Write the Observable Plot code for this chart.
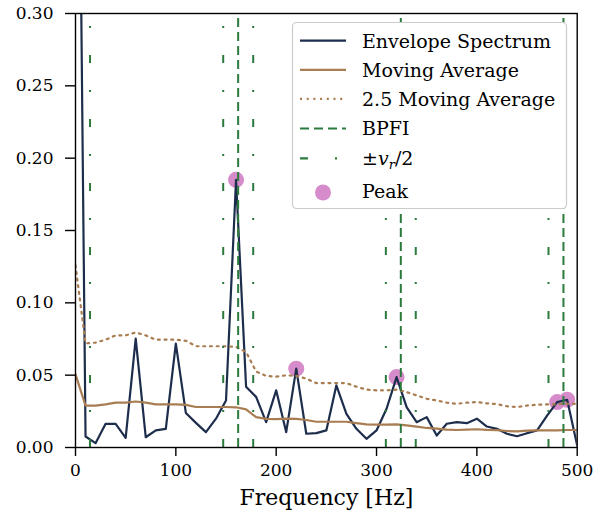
<!DOCTYPE html>
<html><head><meta charset="utf-8">
<script src="https://cdn.jsdelivr.net/npm/d3@7"></script>
<script src="https://cdn.jsdelivr.net/npm/@observablehq/plot@0.6"></script>
<style>
body{margin:0;background:#fff;}
#wrap{position:relative;width:605px;height:523px;}
#wrap svg{position:absolute;left:0;top:0;}
</style></head><body><div id="wrap"></div>
<script>
// Frequency bins (Hz)
const freqs = [0,10,20,30,40,50,60,70,80,90,100,110,120,130,140,150,160,170,180,190,200,210,220,230,240,250,260,270,280,290,300,310,320,330,340,350,360,370,380,390,400,410,420,430,440,450,460,470,480,490,500];
// Envelope spectrum amplitude
const envelope = [0.70,0.0076,0.003,0.0164,0.0164,0.0067,0.0753,0.0071,0.0118,0.0129,0.0718,0.0238,0.017,0.0106,0.0199,0.0325,0.185,0.042,0.035,0.0175,0.0395,0.0106,0.0545,0.0095,0.0099,0.0118,0.043,0.0233,0.0129,0.006,0.0118,0.0268,0.0487,0.0279,0.0175,0.021,0.0083,0.0164,0.0175,0.0168,0.0199,0.0145,0.0129,0.0095,0.0078,0.0099,0.0118,0.022,0.0314,0.033,0.0014];
// Moving average
const movingAvg = [0.0505,0.0289,0.029,0.0298,0.031,0.031,0.0318,0.031,0.0298,0.0298,0.0298,0.0295,0.028,0.028,0.028,0.028,0.0278,0.0264,0.021,0.0198,0.0196,0.02,0.0198,0.019,0.0178,0.0178,0.0178,0.0178,0.0168,0.016,0.0158,0.0158,0.016,0.0153,0.0144,0.0135,0.013,0.0124,0.0121,0.0124,0.0126,0.0122,0.012,0.0114,0.0112,0.0116,0.0118,0.0119,0.0119,0.0121,0.0121];
// 2.5 x moving average
const movingAvg25 = [0.126,0.072,0.0725,0.0745,0.0775,0.0775,0.0795,0.0775,0.0745,0.0745,0.0745,0.0738,0.070,0.070,0.070,0.070,0.0695,0.066,0.0525,0.0495,0.049,0.0499,0.0495,0.0476,0.0445,0.0445,0.0445,0.0445,0.042,0.040,0.0395,0.0395,0.040,0.0383,0.036,0.0337,0.0325,0.031,0.0302,0.031,0.0314,0.0305,0.030,0.0285,0.0279,0.029,0.0296,0.0298,0.0298,0.0302,0.0302];
// Peaks
const peakFreqs = [160,220,320,480,490];
const peakVals = [0.185,0.0545,0.0487,0.0314,0.033];
// BPFI harmonics and ±vr/2 sidebands
const bpfi = [162.1,324.2,486.3];
const sidebands = [14.5,147.2,177.1,309.3,339.1,471.4];
// Ticks
const xTicks = [0,100,200,300,400,500];
const yTicks = [0,0.05,0.10,0.15,0.20,0.25,0.30];

const navy = "#1d2d4c", tan = "#a97d52", green = "#2b7b3c", pink = "#d68cca";
const rows = freqs.map((f,i)=>({f, env: envelope[i], ma: movingAvg[i], ma25: movingAvg25[i]}));
const peaks = peakFreqs.map((f,i)=>({f, v: peakVals[i]}));

const chart = Plot.plot({
  width: 605, height: 523,
  marginLeft: 75, marginRight: 28.3, marginTop: 13, marginBottom: 76,
  style: {fontFamily: "DejaVu Serif", fontSize: "17px", color: "black", background: "white"},
  x: {domain: [0,500], label: null},
  y: {domain: [0,0.30], label: null},
  marks: [
    Plot.dot(peaks, {x: "f", y: "v", r: 8, fill: pink, stroke: "none"}),
    Plot.line(rows, {x: "f", y: "env", stroke: navy, strokeWidth: 2.2, clip: true}),
    Plot.line(rows, {x: "f", y: "ma", stroke: tan, strokeWidth: 2.2, clip: true}),
    Plot.line(rows, {x: "f", y: "ma25", stroke: tan, strokeWidth: 2.2, strokeDasharray: "2,4.7", clip: true}),
    Plot.ruleX(bpfi, {x: d => d, y1: 0, y2: 0.30, stroke: green, strokeWidth: 2, strokeDasharray: "9,5"}),
    Plot.ruleX(sidebands, {x: d => d, y1: 0, y2: 0.30, stroke: green, strokeWidth: 2, strokeDasharray: "8,27,2,27"}),
    Plot.frame({stroke: "black", strokeWidth: 1.4}),
    Plot.axisX({ticks: xTicks, tickSize: 9, tickPadding: 7, label: null, strokeWidth: 1.4, fontSize: 17}),
    Plot.axisY({ticks: yTicks, tickFormat: d => d.toFixed(2), tickSize: 10, tickPadding: 12, label: null, strokeWidth: 1.4, fontSize: 17}),
    Plot.text(["Frequency [Hz]"], {frameAnchor: "bottom", dy: 57, fontSize: 22, fill: "black"})
  ]
});
const wrap = document.getElementById("wrap");
wrap.appendChild(chart);

// Legend overlay
const legendItems = [
  {type: "line", color: navy, dash: null, y: 40.7, label: "Envelope Spectrum", base: 47.5},
  {type: "line", color: tan, dash: null, y: 69.8, label: "Moving Average", base: 76.7},
  {type: "line", color: tan, dash: "2,4.7", y: 98.8, label: "2.5 Moving Average", base: 105.8},
  {type: "line", color: green, dash: "9,5", y: 128.5, label: "BPFI", base: 135.3},
  {type: "line", color: green, dash: "8,27,2,27", y: 158.3, label: "pm", base: 165},
  {type: "dot", color: pink, y: 192.5, label: "Peak", base: 198}
];
const ns = "http://www.w3.org/2000/svg";
const lg = document.createElementNS(ns, "svg");
lg.setAttribute("width", 605); lg.setAttribute("height", 523);
lg.style.pointerEvents = "none";
let html = `<rect x="292.5" y="22.5" width="274" height="186" rx="4" ry="4" fill="white" stroke="#cccccc" stroke-width="1.2"/>`;
for (const it of legendItems) {
  if (it.type === "line") {
    html += `<line x1="300" x2="346" y1="${it.y}" y2="${it.y}" stroke="${it.color}" stroke-width="2.2" ${it.dash ? `stroke-dasharray="${it.dash}"` : ""}/>`;
  } else {
    html += `<circle cx="323" cy="${it.y}" r="8" fill="${it.color}"/>`;
  }
  if (it.label === "pm") {
    html += `<text x="362" y="${it.base}" font-family="DejaVu Serif" font-size="19" fill="black">±<tspan font-style="italic">v</tspan><tspan font-style="italic" font-size="13" dy="4">r</tspan><tspan dy="-4">/2</tspan></text>`;
  } else {
    html += `<text x="362" y="${it.base}" font-family="DejaVu Serif" font-size="19" fill="black">${it.label}</text>`;
  }
}
lg.innerHTML = html;
wrap.appendChild(lg);
</script>
</body></html>
